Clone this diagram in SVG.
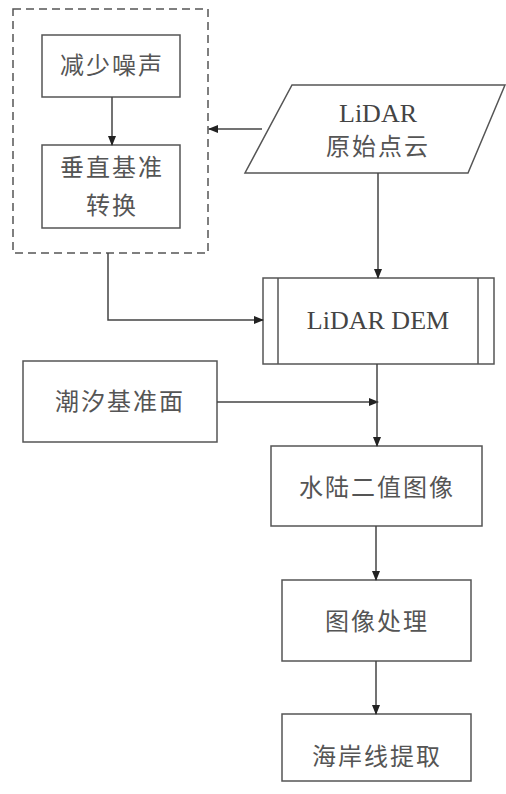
<svg xmlns="http://www.w3.org/2000/svg" width="506" height="794" viewBox="0 0 506 794">
<defs>
<marker id="ah" markerWidth="10" markerHeight="10" refX="9" refY="5" orient="auto" markerUnits="userSpaceOnUse">
<path d="M0,1 L10,5 L0,9 Z" fill="#222"/>
</marker>
<style>
.box{fill:#fff;stroke:#555;stroke-width:1.5}
.t{font-family:"Liberation Serif","Noto Sans CJK SC",serif;font-size:24px;fill:#555;text-anchor:middle;dominant-baseline:central;letter-spacing:2px}
.e{font-family:"Liberation Serif","Noto Sans CJK SC",serif;font-size:26px;fill:#444;text-anchor:middle;dominant-baseline:central}
.c{fill:none;stroke:#444;stroke-width:1.5;marker-end:url(#ah)}
</style>
</defs>
<rect width="506" height="794" fill="#fff"/>
<g id="group-preprocess">
<rect x="13" y="9" width="195" height="244" fill="none" stroke="#555" stroke-width="1.5" stroke-dasharray="8,5"/>
</g>
<g id="n-noise">
<rect class="box" x="42" y="35" width="138" height="62"/>
<text class="t" x="112" y="66">减少噪声</text>
</g>
<g id="n-vertical">
<rect class="box" x="42" y="145" width="138" height="83"/>
<text class="t" x="112" y="168">垂直基准</text>
<text class="t" x="112" y="206">转换</text>
</g>
<g id="n-lidar">
<polygon class="box" points="292,85 505,85 468,173 245,173"/>
<text class="e" x="378" y="113">LiDAR</text>
<text class="t" x="378" y="147">原始点云</text>
</g>
<g id="n-dem">
<rect class="box" x="263" y="278" width="231" height="86"/>
<line x1="278" y1="278" x2="278" y2="364" stroke="#555" stroke-width="1.5"/>
<line x1="478" y1="278" x2="478" y2="364" stroke="#555" stroke-width="1.5"/>
<text class="e" x="378" y="320">LiDAR DEM</text>
</g>
<g id="n-tide">
<rect class="box" x="23" y="361" width="194" height="81"/>
<text class="t" x="120" y="402">潮汐基准面</text>
</g>
<g id="n-binary">
<rect class="box" x="271" y="446" width="211" height="80"/>
<text class="t" x="377" y="488">水陆二值图像</text>
</g>
<g id="n-process">
<rect class="box" x="282" y="580" width="189" height="81"/>
<text class="t" x="377" y="622">图像处理</text>
</g>
<g id="n-coast">
<rect class="box" x="282" y="714" width="189" height="67"/>
<text class="t" x="377" y="757">海岸线提取</text>
</g>
<g id="connectors">
<path class="c" d="M112,97 L112,145"/>
<path class="c" d="M262,129 L209,129"/>
<path class="c" d="M378,173 L378,278"/>
<path class="c" d="M108,253 L108,320 L263,320"/>
<path class="c" d="M217,402 L378,402"/>
<path class="c" d="M377,364 L377,446"/>
<path class="c" d="M376,526 L376,580"/>
<path class="c" d="M376,661 L376,714"/>
</g>
</svg>
